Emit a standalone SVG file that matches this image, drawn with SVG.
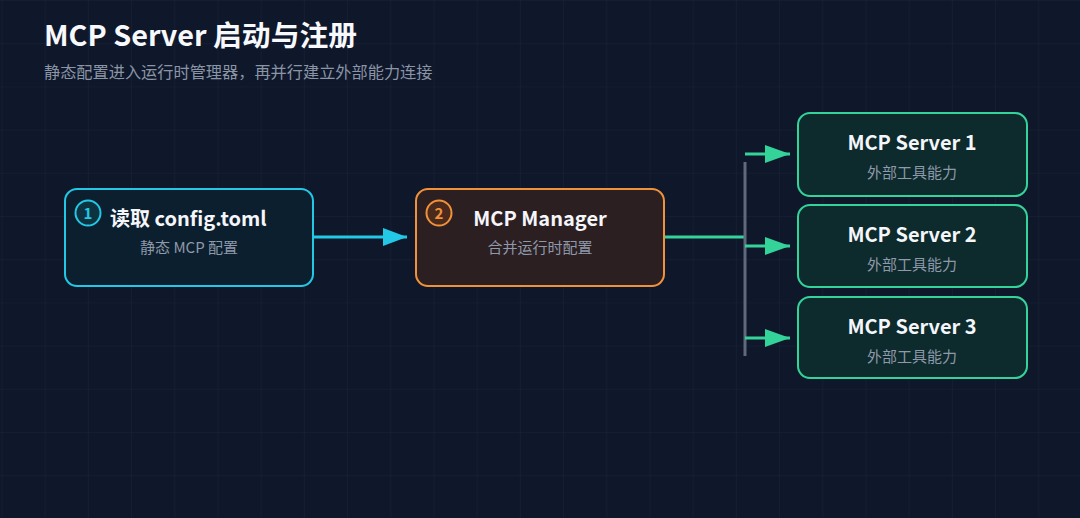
<svg xmlns="http://www.w3.org/2000/svg" width="1080" height="518" viewBox="0 0 1080 518">
<defs>
<pattern id="grid" width="43.2" height="43.2" patternUnits="userSpaceOnUse" x="1.5" y="0">
<path d="M0 0V43.2M0 0H43.2" fill="none" stroke="#1a2438" stroke-width="1"/>
</pattern>
<marker id="ac" viewBox="0 0 24 18" refX="24" refY="9" markerWidth="24" markerHeight="18" markerUnits="userSpaceOnUse" orient="auto">
<path d="M0 0L24 9L0 18Z" fill="#22c8e6"/>
</marker>
<marker id="ag" viewBox="0 0 25 18" refX="25" refY="9" markerWidth="25" markerHeight="18" markerUnits="userSpaceOnUse" orient="auto">
<path d="M0 0L25 9L0 18Z" fill="#34d399"/>
</marker>
</defs>
<style>
text{font-family:"Noto Sans CJK SC","Noto Sans",sans-serif}
.t{font-size:20px;font-weight:700;fill:#f4f6fa}
.s{font-size:15px;fill:#8e99aa}
.srv rect{fill:#0d2a2c;stroke:#34d399;stroke-width:2}
</style>
<rect width="1080" height="518" fill="#0f172a"/>
<rect width="1080" height="518" fill="url(#grid)"/>
<text x="44" y="46" style="font-size:28.8px;font-weight:700;fill:#f7f9fc">MCP Server 启动与注册</text>
<text x="44" y="78" style="font-size:16.2px;fill:#8a95a6">静态配置进入运行时管理器，再并行建立外部能力连接</text>
<g id="connectors">
<line x1="314" y1="237" x2="407" y2="237" stroke="#22c8e6" stroke-width="3" marker-end="url(#ac)"/>
<line x1="664" y1="237" x2="745" y2="237" stroke="#34d399" stroke-width="3"/>
<line x1="745" y1="162" x2="745" y2="356" stroke="#5f6b7d" stroke-width="3"/>
<line x1="745" y1="154" x2="790" y2="154" stroke="#34d399" stroke-width="3" marker-end="url(#ag)"/>
<line x1="745" y1="246" x2="790" y2="246" stroke="#34d399" stroke-width="3" marker-end="url(#ag)"/>
<line x1="745" y1="338" x2="790" y2="338" stroke="#34d399" stroke-width="3" marker-end="url(#ag)"/>
</g>
<g id="node-config">
<rect x="65" y="189" width="248" height="97" rx="12" fill="#0c1f2e" stroke="#22c8e6" stroke-width="2"/>
<circle cx="88" cy="213" r="12.5" fill="#0e3340" stroke="#22c8e6" stroke-width="2"/>
<text x="88" y="219" text-anchor="middle" style="font-size:15px;font-weight:700;fill:#22c8e6">1</text>
<text x="110" y="226" class="t">读取 config.toml</text>
<text x="189" y="253" text-anchor="middle" class="s">静态 MCP 配置</text>
</g>
<g id="node-manager">
<rect x="416" y="189" width="248" height="97" rx="12" fill="#2c1f22" stroke="#f0923a" stroke-width="2"/>
<circle cx="439" cy="213" r="12.5" fill="#4a2a1c" stroke="#f0923a" stroke-width="2"/>
<text x="439" y="219" text-anchor="middle" style="font-size:15px;font-weight:700;fill:#f0923a">2</text>
<text x="540" y="226" text-anchor="middle" class="t">MCP Manager</text>
<text x="540" y="253" text-anchor="middle" class="s">合并运行时配置</text>
</g>
<g id="server-1" class="srv">
<rect x="798" y="113" width="229" height="83" rx="12"/>
<text x="912" y="150" text-anchor="middle" class="t">MCP Server 1</text>
<text x="912" y="178" text-anchor="middle" class="s">外部工具能力</text>
</g>
<g id="server-2" class="srv">
<rect x="798" y="205" width="229" height="82" rx="12"/>
<text x="912" y="242" text-anchor="middle" class="t">MCP Server 2</text>
<text x="912" y="270" text-anchor="middle" class="s">外部工具能力</text>
</g>
<g id="server-3" class="srv">
<rect x="798" y="297" width="229" height="81" rx="12"/>
<text x="912" y="334" text-anchor="middle" class="t">MCP Server 3</text>
<text x="912" y="362" text-anchor="middle" class="s">外部工具能力</text>
</g>
</svg>
